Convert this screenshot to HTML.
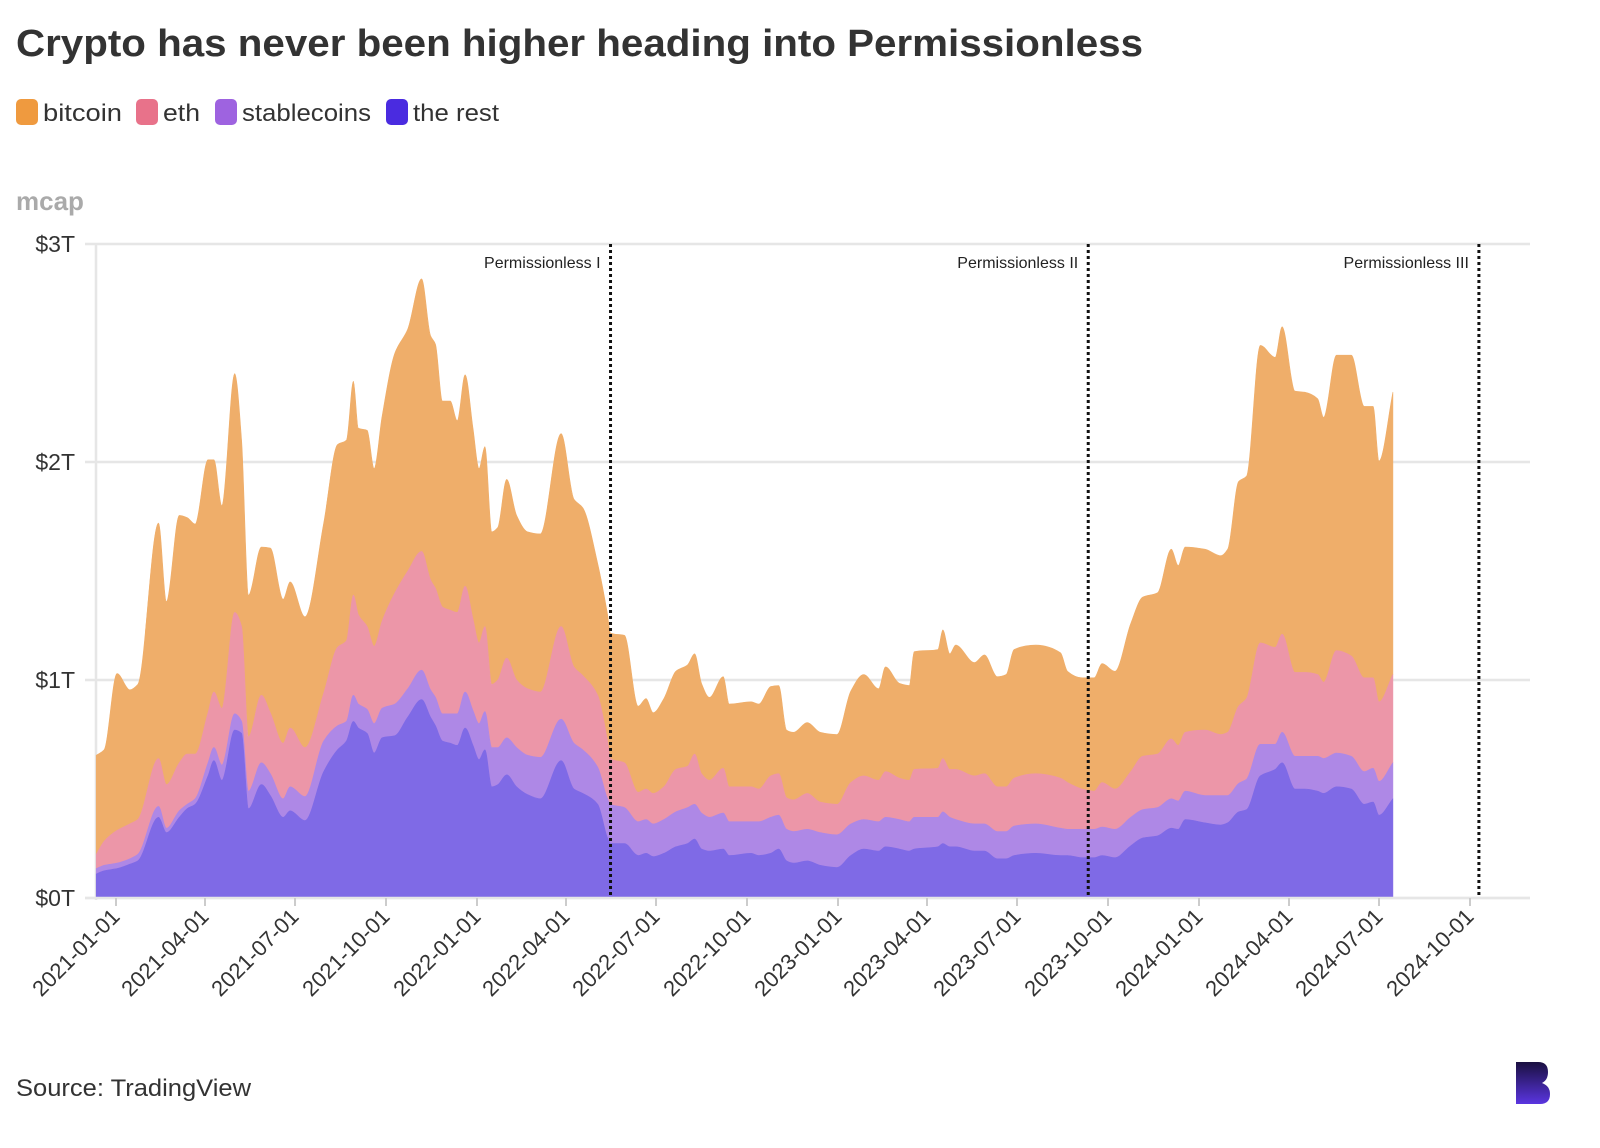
<!DOCTYPE html>
<html><head><meta charset="utf-8"><style>
html,body{margin:0;padding:0;background:#fff;}
svg{display:block;font-family:"Liberation Sans",sans-serif;}
</style></head><body>
<svg id="chart" width="1600" height="1148" viewBox="0 0 1600 1148">
<text x="16" y="56" font-size="38" font-weight="bold" fill="#333" textLength="1127" lengthAdjust="spacingAndGlyphs">Crypto has never been higher heading into Permissionless</text>
<g>
<g><rect x="16" y="99" width="22" height="26" rx="5" fill="#ef9a3f"/><text x="43" y="121" font-size="24" fill="#333" textLength="79" lengthAdjust="spacingAndGlyphs">bitcoin</text></g>
<g><rect x="136" y="99" width="22" height="26" rx="5" fill="#e8728a"/><text x="163" y="121" font-size="24" fill="#333" textLength="37" lengthAdjust="spacingAndGlyphs">eth</text></g>
<g><rect x="215" y="99" width="22" height="26" rx="5" fill="#9e63e0"/><text x="242" y="121" font-size="24" fill="#333" textLength="129" lengthAdjust="spacingAndGlyphs">stablecoins</text></g>
<g><rect x="386" y="99" width="22" height="26" rx="5" fill="#4a2be0"/><text x="413" y="121" font-size="24" fill="#333" textLength="86" lengthAdjust="spacingAndGlyphs">the rest</text></g>
</g>
<text x="16" y="210" font-size="26" font-weight="bold" fill="#aaa">mcap</text>
<g id="grid"></g>
<g id="areas"></g>
<g id="xaxis"></g>
<g id="marks"></g>
<text x="16" y="1096" font-size="24" fill="#333" textLength="235" lengthAdjust="spacingAndGlyphs">Source: TradingView</text>
<g>
<defs><linearGradient id="lg" x1="0" y1="0" x2="0" y2="1"><stop offset="0" stop-color="#1a1040"/><stop offset="1" stop-color="#5a35e0"/></linearGradient></defs>
<path d="M1516 1062 H1538 Q1548 1062 1548 1072 Q1548 1080 1542 1083 Q1550 1086 1550 1094 Q1550 1104 1540 1104 H1516 Z" fill="url(#lg)"/>
</g>
</svg>
<script>
const days = [-20,-12,1,14,22,43,51,64,72,80,93,99,107,120,127,134,147,156,169,176,191,210,224,233,240,245,254,261,269,282,295,309,318,323,330,338,345,353,361,367,373,380,386,395,405,416,429,450,463,472,487,497,500,514,528,536,543,554,566,578,585,592,600,614,620,642,650,662,670,678,685,699,712,729,743,756,771,778,792,802,807,831,836,843,849,868,878,891,900,908,930,955,962,977,989,997,1010,1026,1038,1053,1067,1074,1081,1101,1117,1124,1135,1143,1157,1172,1179,1192,1202,1215,1221,1234,1249,1262,1271,1277,1291];
const theRest = [.11,.125,.135,.155,.17,.37,.30,.37,.41,.43,.56,.63,.54,.77,.755,.41,.52,.47,.37,.40,.355,.58,.68,.72,.81,.78,.755,.665,.735,.745,.83,.91,.83,.79,.72,.71,.70,.78,.70,.635,.68,.51,.52,.565,.51,.475,.455,.63,.50,.48,.43,.275,.25,.25,.195,.205,.19,.205,.235,.25,.27,.225,.215,.225,.195,.205,.195,.205,.225,.17,.16,.17,.15,.14,.195,.225,.215,.235,.225,.215,.225,.235,.25,.235,.235,.215,.215,.18,.18,.195,.205,.195,.195,.185,.185,.195,.185,.24,.275,.285,.32,.315,.36,.345,.335,.345,.395,.405,.56,.59,.62,.50,.50,.49,.48,.51,.50,.43,.44,.38,.455];
const stablecoins = [.025,.025,.025,.025,.03,.05,.02,.03,.02,.025,.06,.06,.07,.075,.055,.08,.10,.10,.085,.11,.11,.14,.11,.09,.12,.11,.11,.135,.135,.145,.13,.135,.125,.13,.125,.135,.145,.165,.16,.165,.175,.18,.17,.17,.18,.18,.19,.19,.21,.20,.17,.18,.18,.165,.155,.155,.15,.155,.16,.165,.16,.165,.155,.165,.155,.145,.155,.165,.155,.145,.145,.145,.15,.15,.145,.135,.135,.135,.135,.135,.145,.135,.145,.135,.125,.125,.125,.125,.125,.135,.135,.125,.12,.13,.13,.13,.13,.13,.13,.13,.135,.13,.13,.125,.135,.125,.13,.14,.145,.115,.14,.15,.15,.16,.16,.155,.15,.15,.155,.155,.165];
const eth = [.065,.11,.15,.16,.16,.22,.20,.22,.23,.205,.23,.255,.26,.465,.435,.25,.31,.28,.255,.27,.225,.22,.36,.37,.46,.41,.38,.355,.40,.51,.54,.545,.505,.50,.49,.475,.465,.485,.42,.37,.39,.29,.31,.365,.31,.305,.30,.425,.35,.34,.33,.265,.21,.205,.135,.14,.14,.15,.195,.19,.23,.18,.17,.205,.16,.16,.15,.19,.19,.145,.145,.165,.14,.14,.19,.20,.19,.21,.19,.19,.22,.225,.245,.22,.23,.22,.23,.205,.205,.22,.23,.23,.215,.185,.175,.205,.185,.21,.245,.245,.275,.255,.27,.30,.28,.29,.355,.37,.465,.445,.45,.385,.385,.375,.35,.47,.46,.43,.415,.365,.405];
const bitcoin = [.455,.42,.72,.615,.62,1.08,.84,1.135,1.085,1.055,1.16,1.065,.93,1.095,.855,.65,.68,.755,.66,.67,.60,.78,.93,.92,.98,.855,.90,.815,.94,1.10,1.11,1.25,1.12,1.12,.945,.96,.88,.97,.875,.80,.825,.70,.70,.82,.755,.72,.725,.885,.77,.77,.605,.58,.575,.585,.395,.415,.37,.405,.45,.465,.46,.415,.38,.42,.38,.39,.39,.41,.405,.31,.31,.325,.32,.32,.42,.465,.42,.48,.435,.435,.54,.545,.59,.53,.57,.52,.545,.505,.515,.59,.59,.575,.51,.51,.52,.545,.54,.68,.73,.74,.87,.825,.85,.83,.82,.84,1.03,1.02,1.365,1.33,1.41,1.29,1.285,1.265,1.215,1.355,1.38,1.245,1.245,1.105,1.295];
const yTicks = [0,1,2,3];
const yTickLabels = ["$0T","$1T","$2T","$3T"];
const xTickLabels = ["2021-01-01","2021-04-01","2021-07-01","2021-10-01","2022-01-01","2022-04-01","2022-07-01","2022-10-01","2023-01-01","2023-04-01","2023-07-01","2023-10-01","2024-01-01","2024-04-01","2024-07-01","2024-10-01"];
const eventDays = [500,983,1378];
const eventLabels = ["Permissionless I","Permissionless II","Permissionless III"];

const NS="http://www.w3.org/2000/svg";
const X0=116, PPD=(1470-116)/1369, Y0=898, PPT=218;
function xScale(d){return X0+d*PPD;}
function yScale(v){return Y0-v*PPT;}
function dayOf(s){return Math.round((Date.parse(s+"T00:00:00Z")-Date.parse("2021-01-01T00:00:00Z"))/86400000);}
function mk(tag,attrs,parent){const e=document.createElementNS(NS,tag);for(const k in attrs)e.setAttribute(k,attrs[k]);parent.appendChild(e);return e;}

// monotone cubic segments through points (xs increasing or decreasing)
function monoSegs(xs,ys){
  const n=xs.length, m=new Array(n), d=[];
  for(let i=0;i<n-1;i++)d.push((ys[i+1]-ys[i])/(xs[i+1]-xs[i]));
  m[0]=d[0]; m[n-1]=d[n-2];
  for(let i=1;i<n-1;i++){
    if(d[i-1]*d[i]<=0)m[i]=0;
    else{const h0=xs[i]-xs[i-1],h1=xs[i+1]-xs[i];m[i]=3*(h0+h1)/((2*h1+h0)/d[i-1]+(h1+2*h0)/d[i]);}
  }
  let s='';
  for(let i=0;i<n-1;i++){
    const h=(xs[i+1]-xs[i])/3;
    s+='C'+(xs[i]+h).toFixed(1)+','+(ys[i]+m[i]*h).toFixed(1)+' '+(xs[i+1]-h).toFixed(1)+','+(ys[i+1]-m[i+1]*h).toFixed(1)+' '+xs[i+1].toFixed(1)+','+ys[i+1].toFixed(1);
  }
  return s;
}

const grid=document.getElementById('grid');
yTicks.forEach((t,i)=>{
  const l=mk('line',{x1:85,x2:1530,y1:yScale(t),y2:yScale(t),stroke:'#e6e6e6','stroke-width':2.5},grid);
  
  
  const tx=mk('text',{x:75,y:yScale(t)+8,'text-anchor':'end','font-size':23,fill:'#333'},grid);
  tx.textContent=yTickLabels[i];
  
  
});
const ax=mk('line',{x1:96,x2:96,y1:244,y2:900,stroke:'#e6e6e6','stroke-width':2.5},grid);



const layers=[theRest,stablecoins,eth,bitcoin];
const names=['area-the-rest','area-stablecoins','area-eth','area-bitcoin'];
const colors=['#7f6ae6','#ae88e6','#ec96a8','#efae6a'];
const cum=[];
let base=days.map(()=>0);
layers.forEach(l=>{const top=base.map((b,i)=>b+l[i]);cum.push({base:base,top:top});base=top;});
const areas=document.getElementById('areas');
const xs=days.map(xScale);
const xsr=xs.slice().reverse();
for(let k=layers.length-1;k>=0;k--){
  const c=cum[k];
  const yt=c.top.map(yScale), yb=c.base.map(yScale).reverse();
  let d='M'+xs[0].toFixed(1)+','+yt[0].toFixed(1)+monoSegs(xs,yt);
  d+='L'+xsr[0].toFixed(1)+','+yb[0].toFixed(1)+monoSegs(xsr,yb)+'Z';
  const p=mk('path',{d:d,fill:colors[k],'stroke':colors[k],'stroke-width':0.6,'stroke-linejoin':'round'},areas);
  
  
}

const xa=document.getElementById('xaxis');
const bl=mk('line',{x1:85,x2:1530,y1:Y0,y2:Y0,stroke:'#e6e6e6','stroke-width':2.5},xa);


xTickLabels.forEach(s=>{
  const x=xScale(dayOf(s));
  const tk=mk('line',{x1:x,x2:x,y1:Y0,y2:Y0+8,stroke:'#ccc','stroke-width':2},xa);
  
  
  const t=mk('text',{x:0,y:0,'text-anchor':'end','font-size':22,fill:'#333',transform:'translate('+(x+5)+','+(Y0+20)+') rotate(-45)'},xa);
  t.textContent=s;
  
  
});

const mg=document.getElementById('marks');
eventDays.forEach((d,i)=>{
  const x=xScale(d);
  const l=mk('line',{x1:x,x2:x,y1:244,y2:Y0,stroke:'#111','stroke-width':3,'stroke-dasharray':'3,3'},mg);
  
  
  const t=mk('text',{x:x-10,y:268,'text-anchor':'end','font-size':16,fill:'#222'},mg);
  t.textContent=eventLabels[i];
  
  
});
</script>
</body></html>
